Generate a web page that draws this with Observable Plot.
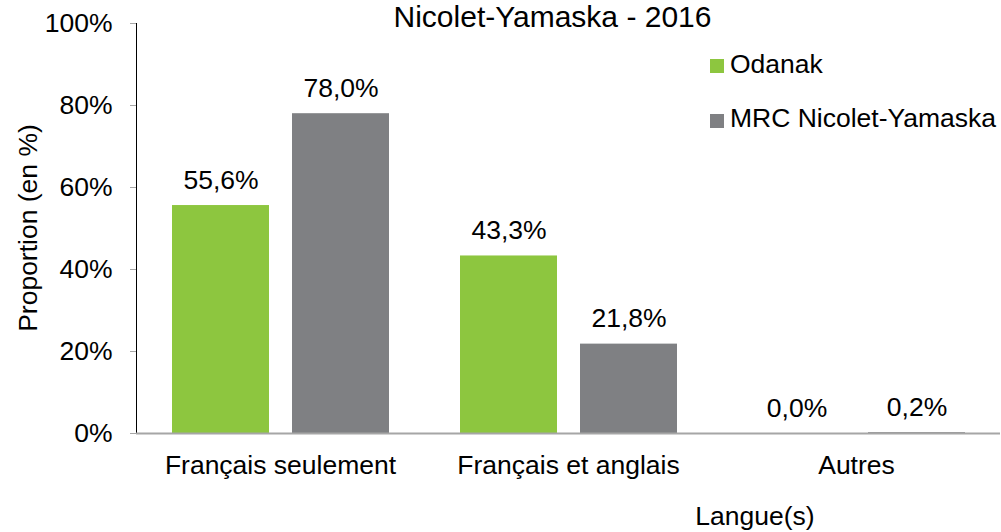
<!DOCTYPE html>
<html>
<head>
<meta charset="utf-8">
<script src="https://cdn.jsdelivr.net/npm/d3@7"></script>
<script src="https://cdn.jsdelivr.net/npm/@observablehq/plot@0.6"></script>
<style>
  html, body { margin: 0; padding: 0; background: #fff; }
  #wrap { position: relative; width: 1001px; height: 532px; font-family: "Liberation Sans", Arial, sans-serif; color: #000; overflow: hidden; }
  #wrap svg { position: absolute; left: 0; top: 0; }
  .ov { position: absolute; white-space: nowrap; }
  .sw { position: absolute; width: 14px; height: 14px; }
  #wrap svg [aria-label="y-axis tick"] path,
  #wrap svg [aria-label="y-axis line"] line,
  #wrap svg [aria-label="rule"] line { stroke: #a6a6a6; }
</style>
</head>
<body>
<div id="wrap"></div>
<script>
const categories = ["Français seulement", "Français et anglais", "Autres"];
const series = ["Odanak", "MRC Nicolet-Yamaska"];
const odanak = [55.6, 43.3, 0.0];
const mrc = [78.0, 21.8, 0.2];
const yTicks = [0, 20, 40, 60, 80, 100];
const colors = ["#8dc63f", "#7f8083"];
const title = "Nicolet-Yamaska - 2016";
const yLabel = "Proportion (en %)";
const xLabel = "Langue(s)";

const values = [odanak, mrc];
const data = categories.flatMap((c, i) => series.map((s, j) => ({cat: c, series: s, value: values[j][i]})));
const fmt = v => v.toFixed(1).replace(".", ",") + "%";

const chart = Plot.plot({
  width: 1001,
  height: 532,
  marginLeft: 136,
  marginRight: 1,
  marginTop: 23,
  marginBottom: 99,
  style: {fontFamily: "'Liberation Sans', Arial, sans-serif", fontSize: "26.5px", color: "#000", background: "transparent", overflow: "visible"},
  fx: {domain: categories, padding: 0, label: null, tickSize: 0, tickPadding: 22, axis: "bottom"},
  x: {domain: series, paddingInner: 0.192, paddingOuter: 0.296, axis: null},
  y: {domain: [0, 100], ticks: yTicks, tickFormat: d => d + "%", tickSize: 6, tickPadding: 18, label: null, line: true},
  color: {domain: series, range: colors},
  marks: [
    Plot.barY(data, {fx: "cat", x: "series", y: "value", fill: "series"}),
    Plot.ruleY([0], {stroke: "#a6a6a6", strokeWidth: 2}),
    Plot.text(data, {fx: "cat", x: "series", y: "value", text: d => fmt(d.value), lineAnchor: "bottom", dy: -17, fill: "#000", fontSize: 26.5})
  ]
});
const wrap = document.getElementById("wrap");
wrap.appendChild(chart);

function ov(text, css) {
  const d = document.createElement("div");
  d.className = "ov";
  d.textContent = text;
  Object.assign(d.style, css);
  wrap.appendChild(d);
  return d;
}
ov(title, {left: "0px", width: "1105px", textAlign: "center", top: "2px", fontSize: "30px", lineHeight: "30px"});
ov(xLabel, {left: "655px", width: "200px", textAlign: "center", top: "503px", fontSize: "26.5px", lineHeight: "26px"});
ov(yLabel, {left: "-122px", width: "300px", textAlign: "center", top: "215px", fontSize: "26.5px", lineHeight: "26px", transform: "rotate(-90deg)", transformOrigin: "50% 50%"});
series.forEach((s, i) => {
  const sw = document.createElement("div");
  sw.className = "sw";
  sw.style.left = "710px";
  sw.style.top = (59 + i * 55) + "px";
  sw.style.background = colors[i];
  wrap.appendChild(sw);
  ov(s, {left: "730px", top: (51 + i * 54) + "px", fontSize: "26.5px", lineHeight: "26px"});
});
</script>
</body>
</html>
